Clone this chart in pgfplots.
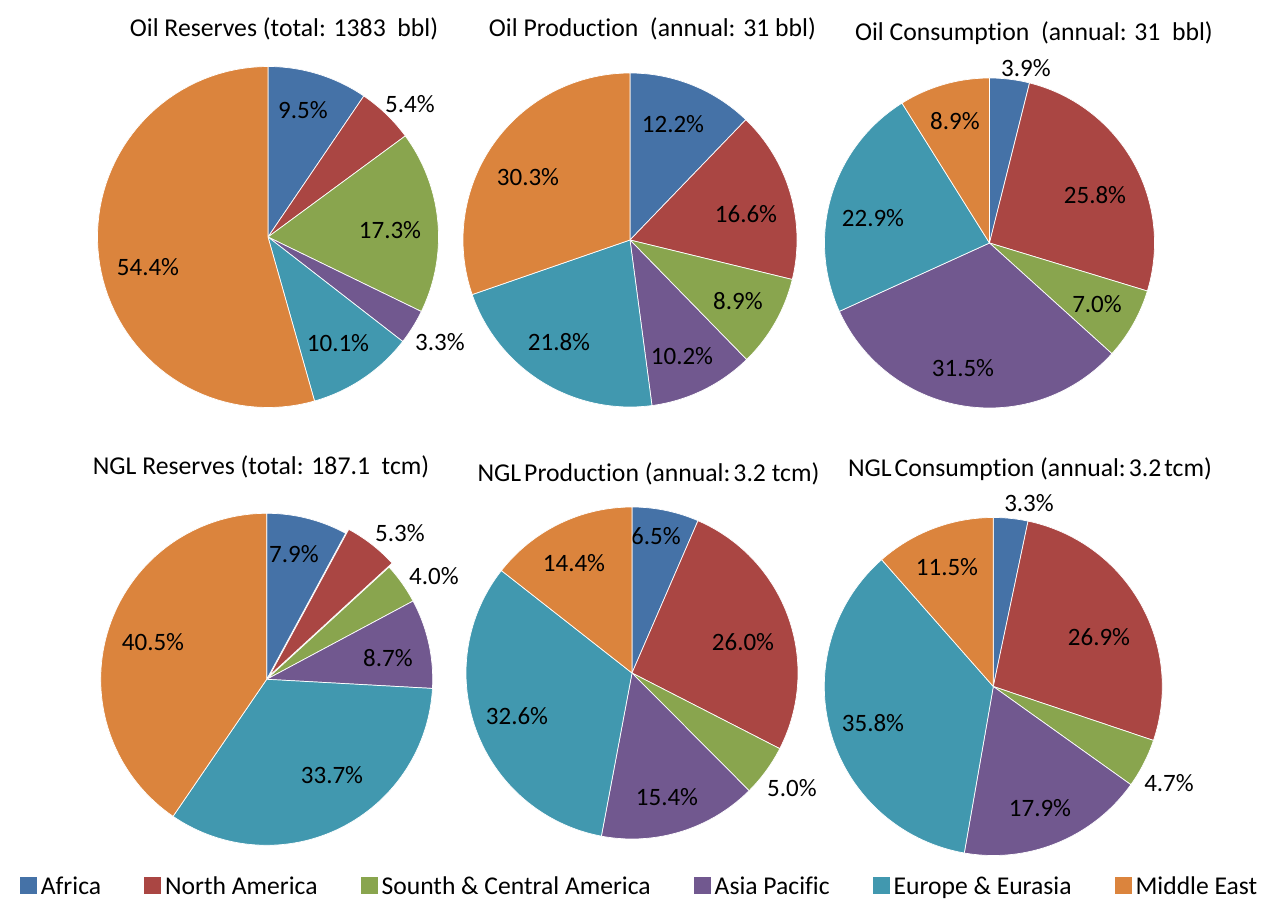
\documentclass[border=0pt]{standalone}
\usepackage{pgfplots}
\usepackage{pgfplotstable}
\pgfplotsset{compat=1.18}
\usepackage{fontspec}
\setmainfont{Carlito}[Ligatures=NoCommon]
\definecolor{c0}{HTML}{4572A7}
\definecolor{c1}{HTML}{AA4643}
\definecolor{c2}{HTML}{89A54E}
\definecolor{c3}{HTML}{71588F}
\definecolor{c4}{HTML}{4198AF}
\definecolor{c5}{HTML}{DB843D}

% value = share in %, (lx,ly) = label position in picture pixels, ex = explode offset
\pgfplotstableread{
value lx ly ex
9.5  303 110 0
5.4  410 104 0
17.3 390 230 0
3.3  440 342 0
10.1 338 343 0
54.4 148 267 0
}\oilres
\pgfplotstableread{
value lx ly ex
12.2 673 124 0
16.6 746 214 0
8.9  738 301 0
10.2 682 356 0
21.8 559 342 0
30.3 528 177 0
}\oilprod
\pgfplotstableread{
value lx ly ex
3.9  1026 68 0
25.8 1095 195 0
7.0  1097 304 0
31.5 963 368 0
22.9 873 218 0
8.9  955 121 0
}\oilcons
\pgfplotstableread{
value lx ly ex
7.9  294 554 0
5.3  400 533 5
4.0  434 576 0
8.7  388 658 0
33.7 332 775 0
40.5 153 642 0
}\nglres
\pgfplotstableread{
value lx ly ex
6.5  656 536 0
26.0 743 642 0
5.0  792 788 0
15.4 667 797 0
32.6 517 716 0
14.4 574 563 0
}\nglprod
\pgfplotstableread{
value lx ly ex
3.3  1029 503 0
26.9 1099 637 0
4.7  1169 783 0
17.9 1040 808 0
35.8 873 723 0
11.5 947 567 0
}\nglcons

\newcommand\drawpie[4]{%
  \def\tot{0}%
  \pgfplotsforeachungrouped \pieidx in {0,...,5}{%
    \pgfplotstablegetelem{\pieidx}{value}\of#1%
    \pgfmathsetmacro\tot{\tot+\pgfplotsretval}%
  }%
  \def\cum{0}%
  \pgfmathsetmacro\cy{898-#3}%
  \pgfplotsforeachungrouped \pieidx in {0,...,5}{%
    \pgfplotstablegetelem{\pieidx}{value}\of#1\let\val\pgfplotsretval
    \pgfplotstablegetelem{\pieidx}{lx}\of#1\let\lx\pgfplotsretval
    \pgfplotstablegetelem{\pieidx}{ly}\of#1\let\ly\pgfplotsretval
    \pgfplotstablegetelem{\pieidx}{ex}\of#1\let\ex\pgfplotsretval
    \pgfmathsetmacro\aS{90-(\cum/\tot)*360}%
    \pgfmathsetmacro\cum{\cum+\val}%
    \pgfmathsetmacro\aE{90-(\cum/\tot)*360}%
    \pgfmathsetmacro\am{(\aS+\aE)/2}%
    \pgfmathsetmacro\ccx{#2+\ex*cos(\am)}%
    \pgfmathsetmacro\ccy{\cy+\ex*sin(\am)}%
    \pgfmathsetmacro\lyy{898-\ly}%
    \edef\temp{%
      \noexpand\addplot[fill=c\pieidx, draw=white, line width=0.7pt, line join=round, domain=\aE:\aS, samples=72, forget plot]
        ({\ccx+#4*cos(x)},{\ccy+#4*sin(x)}) -- (axis cs:\ccx,\ccy) -- cycle;
      \noexpand\node[lbl] at (axis cs:\lx,\lyy) {\val\noexpand\%};%
    }%
    \temp
  }%
}

\begin{document}
\begin{tikzpicture}[
  lbl/.style={font=\fontsize{25}{29}\selectfont, text=black, inner sep=0pt},
  ttl/.style={font=\fontsize{25.7}{30}\selectfont, text=black, inner sep=0pt}]
\begin{axis}[
  width=1269pt, height=898pt, scale only axis,
  xmin=0, xmax=1269, ymin=0, ymax=898,
  hide axis, clip=false,
  legend columns=6,
  legend style={draw=none, fill=none, at={(0.5032,0.0134)}, anchor=center,
    font=\fontsize{25.6}{30}\selectfont,
    /tikz/every odd column/.append style={column sep=4pt},
    /tikz/every even column/.append style={column sep=43pt},
    nodes={inner xsep=0pt, inner ysep=0pt}},
  legend image code/.code={\fill[#1] (0pt,-8.5pt) rectangle (17pt,8.5pt);},
]
\path (rel axis cs:0,0) rectangle (rel axis cs:1,1);

\drawpie{\oilres}{268}{237}{170.5}
\drawpie{\oilprod}{630}{240}{167}
\drawpie{\oilcons}{989.5}{243}{165}
\drawpie{\nglres}{266.7}{679.3}{166}
\drawpie{\nglprod}{632}{673}{166}
\drawpie{\nglcons}{993.3}{686.5}{169}

\node[ttl] at (axis cs:284,869) {Oil Reserves (total: 1383\ \ bbl)};
\node[ttl] at (axis cs:652.5,869) {Oil Production\ \ (annual: 31 bbl)};
\node[ttl] at (axis cs:1034,865) {Oil Consumption\ \ (annual: 31\ \ bbl)};
\node[ttl] at (axis cs:261,431) {NGL Reserves (total: 187.1\ \ tcm)};
\node[ttl] at (axis cs:648.5,424) {NGL\hspace{3pt}Production (annual:\hspace{3pt}3.2 tcm)};
\node[ttl] at (axis cs:1030,429) {NGL\hspace{3pt}Consumption (annual:\hspace{3pt}3.2\hspace{3pt}tcm)};

\addlegendimage{fill=c0, draw=none}\addlegendentry{Africa}
\addlegendimage{fill=c1, draw=none}\addlegendentry{North America}
\addlegendimage{fill=c2, draw=none}\addlegendentry{Sounth \& Central America}
\addlegendimage{fill=c3, draw=none}\addlegendentry{Asia Pacific}
\addlegendimage{fill=c4, draw=none}\addlegendentry{Europe \& Eurasia}
\addlegendimage{fill=c5, draw=none}\addlegendentry{Middle East}
\end{axis}
\end{tikzpicture}
\end{document}
